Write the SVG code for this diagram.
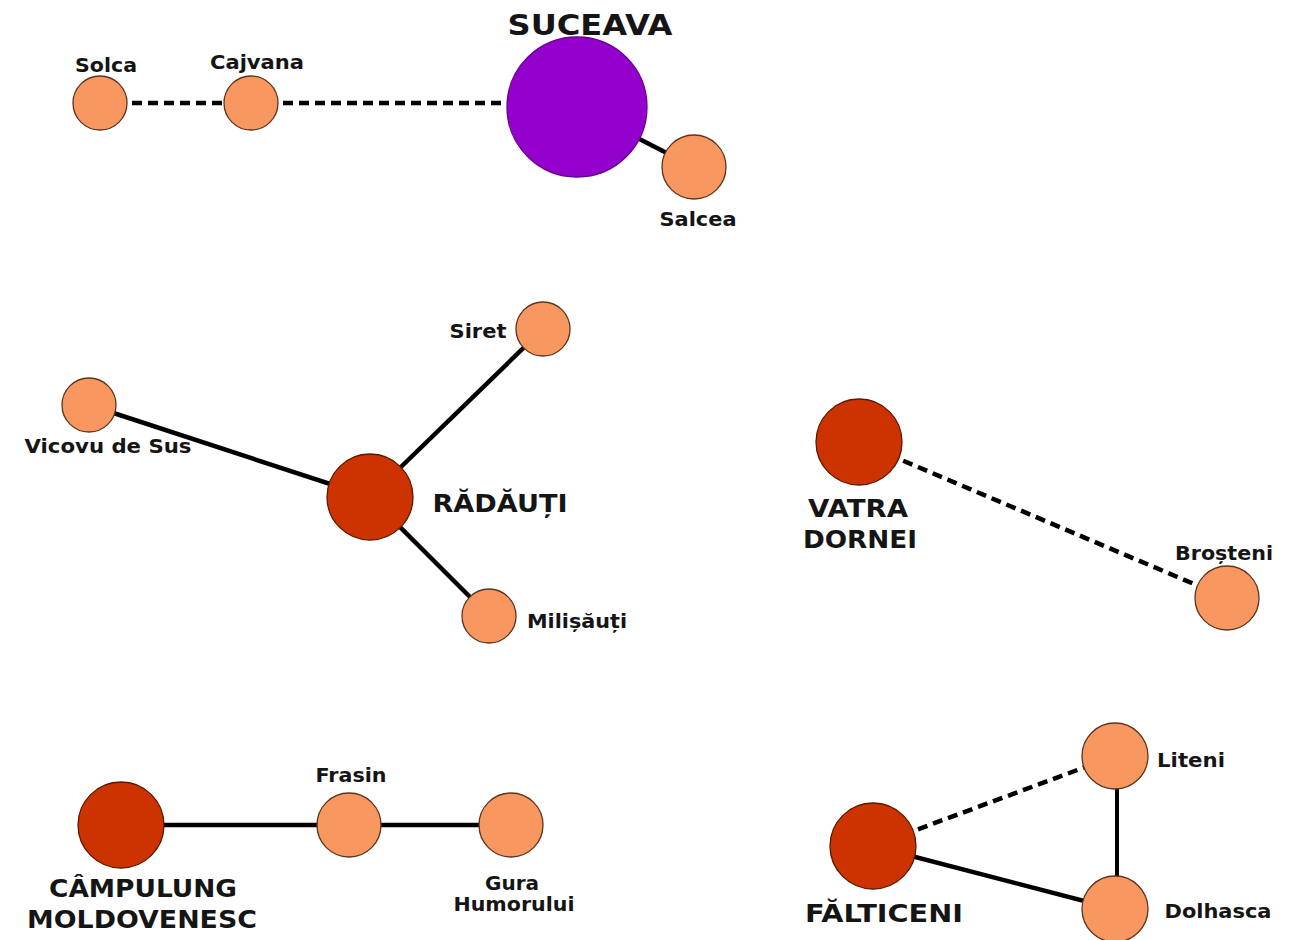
<svg xmlns="http://www.w3.org/2000/svg" width="1291" height="940" viewBox="0 0 1291 940">
<style>
.town{fill:#F8975F;stroke:#5a3520;stroke-width:1.3}
.city{fill:#CC3300;stroke:#5a1a00;stroke-width:1.3}
.cap{fill:#9400CC;stroke:#6a0090;stroke-width:1.3}
.lbl{font-family:"DejaVu Sans",Verdana,sans-serif;font-weight:bold;font-size:19px;fill:#151515;text-anchor:middle}
.big{font-family:"DejaVu Sans",Verdana,sans-serif;font-weight:bold;font-size:24px;fill:#151515;text-anchor:middle}
.solid{stroke:#000;stroke-width:4.5;fill:none}
.dash{stroke:#000;stroke-width:4.5;fill:none;stroke-dasharray:10 6}
</style>
<rect width="1291" height="940" fill="#ffffff"/>
<g id="connectors">
<line class="dash" x1="100" y1="103" x2="251" y2="103"/>
<line class="dash" x1="251" y1="103" x2="577" y2="103"/>
<line class="solid" x1="577" y1="107" x2="694" y2="167"/>
<line class="solid" x1="89" y1="405" x2="370" y2="497"/>
<line class="solid" x1="543" y1="329" x2="370" y2="497"/>
<line class="solid" x1="370" y1="497" x2="489" y2="616"/>
<line class="dash" x1="859" y1="442" x2="1227" y2="598"/>
<line class="solid" x1="121" y1="825" x2="511" y2="825"/>
<line class="dash" x1="873" y1="846" x2="1115" y2="756"/>
<line class="solid" x1="873" y1="846" x2="1115" y2="909"/>
<line class="solid" x1="1117" y1="756" x2="1117" y2="909" style="stroke-width:4"/>
</g>
<g id="suceava"><circle class="cap" cx="577" cy="107" r="70"/><text class="big" x="590" y="35" style="font-size:28px" textLength="165" lengthAdjust="spacingAndGlyphs">SUCEAVA</text></g>
<g id="solca"><circle class="town" cx="100" cy="103" r="27"/><text class="lbl" x="106" y="72" textLength="62" lengthAdjust="spacingAndGlyphs">Solca</text></g>
<g id="cajvana"><circle class="town" cx="251" cy="103" r="27"/><text class="lbl" x="257" y="69" textLength="94" lengthAdjust="spacingAndGlyphs">Cajvana</text></g>
<g id="salcea"><circle class="town" cx="694" cy="167" r="32"/><text class="lbl" x="698" y="226" textLength="77" lengthAdjust="spacingAndGlyphs">Salcea</text></g>
<g id="siret"><circle class="town" cx="543" cy="329" r="27"/><text class="lbl" x="478" y="338" textLength="57" lengthAdjust="spacingAndGlyphs">Siret</text></g>
<g id="vicovu"><circle class="town" cx="89" cy="405" r="27"/><text class="lbl" x="108" y="453" textLength="167" lengthAdjust="spacingAndGlyphs">Vicovu de Sus</text></g>
<g id="radauti"><circle class="city" cx="370" cy="497" r="43"/><text class="big" x="500" y="512" textLength="135" lengthAdjust="spacingAndGlyphs">RĂDĂUȚI</text></g>
<g id="milisauti"><circle class="town" cx="489" cy="616" r="27"/><text class="lbl" x="577" y="628" textLength="100" lengthAdjust="spacingAndGlyphs">Milișăuți</text></g>
<g id="vatradornei"><circle class="city" cx="859" cy="442" r="43"/><text class="big" x="858" y="517" textLength="100" lengthAdjust="spacingAndGlyphs">VATRA</text><text class="big" x="860" y="548" textLength="114" lengthAdjust="spacingAndGlyphs">DORNEI</text></g>
<g id="brosteni"><circle class="town" cx="1227" cy="598" r="32"/><text class="lbl" x="1224" y="560" textLength="98" lengthAdjust="spacingAndGlyphs">Broșteni</text></g>
<g id="campulung"><circle class="city" cx="121" cy="825" r="43"/><text class="big" x="143" y="897" textLength="188" lengthAdjust="spacingAndGlyphs">CÂMPULUNG</text><text class="big" x="142" y="928" textLength="230" lengthAdjust="spacingAndGlyphs">MOLDOVENESC</text></g>
<g id="frasin"><circle class="town" cx="349" cy="825" r="32"/><text class="lbl" x="351" y="782" textLength="71" lengthAdjust="spacingAndGlyphs">Frasin</text></g>
<g id="gura"><circle class="town" cx="511" cy="825" r="32"/><text class="lbl" x="512" y="890" textLength="54" lengthAdjust="spacingAndGlyphs">Gura</text><text class="lbl" x="514" y="911" textLength="121" lengthAdjust="spacingAndGlyphs">Humorului</text></g>
<g id="falticeni"><circle class="city" cx="873" cy="846" r="43"/><text class="big" x="884" y="922" textLength="158" lengthAdjust="spacingAndGlyphs">FĂLTICENI</text></g>
<g id="liteni"><circle class="town" cx="1115" cy="756" r="33"/><text class="lbl" x="1191" y="767" textLength="68" lengthAdjust="spacingAndGlyphs">Liteni</text></g>
<g id="dolhasca"><circle class="town" cx="1115" cy="909" r="33"/><text class="lbl" x="1218" y="918" textLength="107" lengthAdjust="spacingAndGlyphs">Dolhasca</text></g>
</svg>
